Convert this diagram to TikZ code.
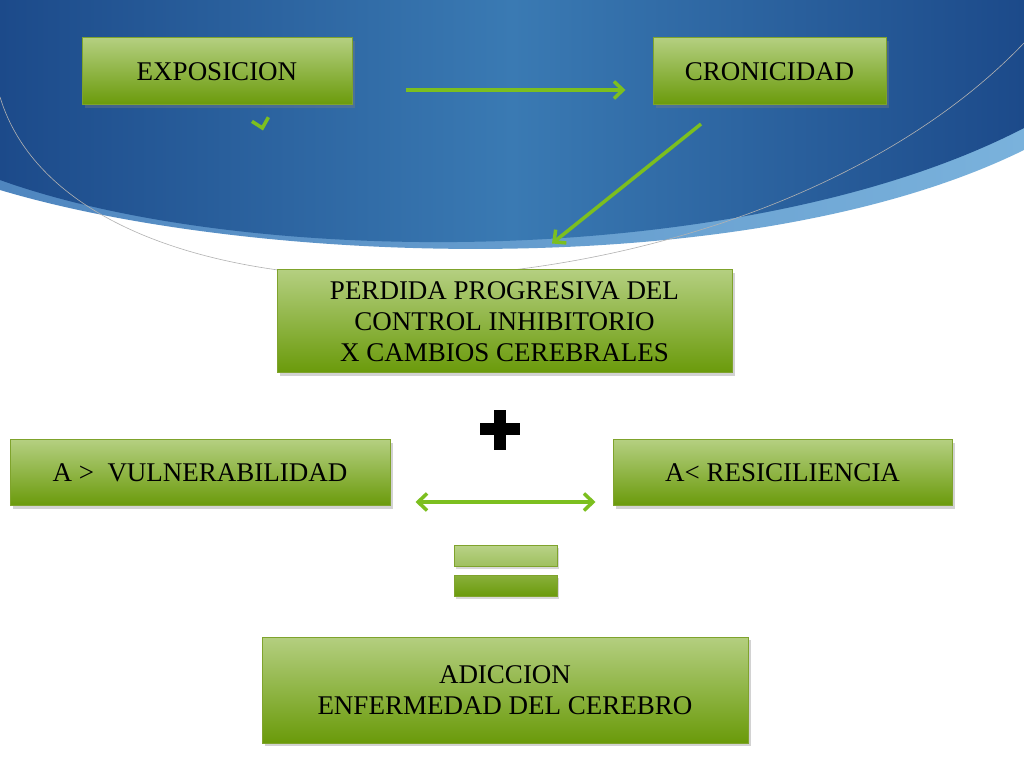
\documentclass[tikz,border=0pt]{standalone}
\usepackage{fontspec}
\setmainfont{Liberation Serif}
\usetikzlibrary{positioning,arrows.meta,shadows}

\definecolor{boxTop}{HTML}{B4CF80}
\definecolor{boxBot}{HTML}{6A9A0A}
\definecolor{boxLine}{HTML}{7FA32C}
\definecolor{arrowGreen}{HTML}{7CBF1F}
\definecolor{blueDark}{HTML}{1C4A8A}
\definecolor{blueMid}{HTML}{3A7AB3}
\definecolor{bandLeft}{HTML}{4F86BF}
\definecolor{bandRight}{HTML}{7AB2DC}

\tikzset{
  greenBox/.style={rectangle, draw=boxLine, line width=1pt, top color=boxTop, bottom color=boxBot,
    align=center, inner sep=0pt, font=\fontsize{27}{31}\selectfont,
    drop shadow={shadow xshift=3pt, shadow yshift=-3pt, opacity=0.35}},
  barBox/.style={rectangle, draw=boxLine, line width=1pt, minimum width=103pt, minimum height=21pt,
    drop shadow={shadow xshift=2pt, shadow yshift=-2pt, opacity=0.3}},
  link/.style={draw=arrowGreen, line width=3.5pt, -{Straight Barb[length=9pt,width=17pt]}},
  biLink/.style={draw=arrowGreen, line width=3.5pt, {Straight Barb[length=9pt,width=17pt]}-{Straight Barb[length=9pt,width=17pt]}}
}

\begin{document}
\begin{tikzpicture}[x=1pt,y=1pt]
        \useasboundingbox (0,0) rectangle (1024,768);
        % background
        \fill[white] (0,0) rectangle (1024,768);
        \shade[left color=bandLeft, right color=bandRight] (0,768) -- (0,578) .. controls (250,503) and (750,483) .. (1024,618) -- (1024,768) -- cycle;
        \shade[left color=blueDark, right color=blueDark, middle color=blueMid] (0,768) -- (0,588) .. controls (250,498) and (750,498) .. (1024,640) -- (1024,768) -- cycle;
        \draw[gray!60, line width=0.6pt] (0,671) .. controls (80,408) and (750,438) .. (1024,725);

        \node[greenBox, minimum width=270pt, minimum height=67pt] (expoNode) at (217, 696.5) {EXPOSICION};
        \node[greenBox, minimum width=233pt, minimum height=67pt] (cronoNode) [right = 300pt of expoNode] {CRONICIDAD};
        \node[greenBox, minimum width=455pt, minimum height=103pt] (perdidaNode) at (504.5, 446.5) {PERDIDA PROGRESIVA DEL\\CONTROL INHIBITORIO\\X CAMBIOS CEREBRALES};
        \node[greenBox, minimum width=380pt, minimum height=66pt] (vulnNode) at (200, 295) {A >\ \ VULNERABILIDAD};
        \node[greenBox, minimum width=339pt, minimum height=66pt] (resilNode) [right = 222pt of vulnNode] {A< RESICILIENCIA};
        \node[greenBox, minimum width=486pt, minimum height=106pt] (adicNode) at (505, 78) {ADICCION\\ENFERMEDAD DEL CEREBRO};

        % plus and equal signs
        \fill[black] (480, 333) rectangle (520, 345);
        \fill[black] (494, 318) rectangle (506, 358);
        \node[barBox, top color=boxTop!95, bottom color=boxTop!70!boxBot] (eqTopNode) at (505.5, 211.5) {};
        \node[barBox, top color=boxTop!40!boxBot, bottom color=boxBot] (eqBotNode) at (505.5, 181.5) {};

        \draw ([xshift=53pt, yshift=-18.5pt]expoNode.east) edge[link] ([xshift=-27pt, yshift=-18.5pt]cronoNode.west);
        \draw ([xshift=-68.5pt, yshift=-18.5pt]cronoNode.south) edge[link] ([xshift=47.5pt, yshift=26pt]perdidaNode.north);
        \draw ([xshift=25pt, yshift=-29pt]vulnNode.east) edge[biLink] ([xshift=-17pt, yshift=-29pt]resilNode.west);
        \draw ([xshift=45pt, yshift=-21pt]expoNode.south) edge[link] ([xshift=46pt, yshift=-25pt]expoNode.south);
      \end{tikzpicture}
\end{document}
